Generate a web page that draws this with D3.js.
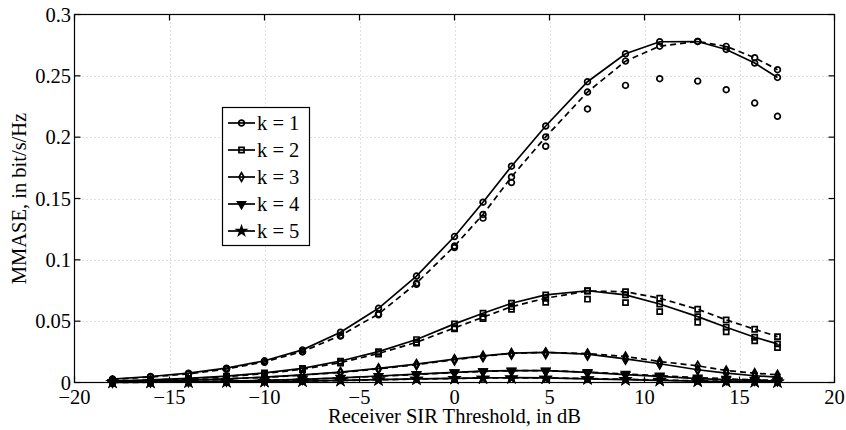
<!DOCTYPE html>
<html>
<head>
<meta charset="utf-8">
<script src="https://cdn.jsdelivr.net/npm/d3@7"></script>
<style>
  html, body { margin: 0; padding: 0; background: #fff; }
  svg { display: block; }
  text { font-family: "Liberation Serif", "Times New Roman", serif; fill: #000; }
</style>
</head>
<body>
<svg id="chart" width="846" height="430"></svg>
<script>
// Receiver SIR threshold (dB) at which each curve is evaluated
const sirDb = [-18, -16, -14, -12, -10, -8, -6, -4, -2, 0, 1.5, 3, 4.8, 7, 9, 10.8, 12.8, 14.3, 15.8, 17];

// k = 1
const k1Solid  = [0.0028, 0.0049, 0.0076, 0.0117, 0.0177, 0.0266, 0.0410, 0.0605, 0.0868, 0.1190, 0.1470, 0.1763, 0.2091, 0.2452, 0.2680, 0.2778, 0.2780, 0.2715, 0.2604, 0.2487];
const k1Dashed = [0.0025, 0.0045, 0.0070, 0.0110, 0.0168, 0.0252, 0.0383, 0.0559, 0.0809, 0.1112, 0.1370, 0.1676, 0.2002, 0.2368, 0.2620, 0.2742, 0.2780, 0.2740, 0.2648, 0.2550];
const k1Points = [0.0025, 0.0044, 0.0069, 0.0108, 0.0165, 0.0249, 0.0378, 0.0552, 0.0800, 0.1100, 0.1340, 0.1630, 0.1926, 0.2230, 0.2422, 0.2477, 0.2457, 0.2387, 0.2278, 0.2170];

// k = 2
const k2Solid  = [0.0012, 0.0021, 0.0034, 0.0052, 0.0078, 0.0115, 0.0175, 0.0252, 0.0350, 0.0478, 0.0565, 0.0646, 0.0714, 0.0748, 0.0714, 0.0640, 0.0537, 0.0451, 0.0369, 0.0315];
const k2Dashed = [0.0011, 0.0019, 0.0031, 0.0048, 0.0073, 0.0108, 0.0162, 0.0236, 0.0328, 0.0445, 0.0532, 0.0618, 0.0687, 0.0746, 0.0740, 0.0687, 0.0597, 0.0510, 0.0434, 0.0374];
const k2Points = [0.0011, 0.0019, 0.0030, 0.0047, 0.0071, 0.0106, 0.0159, 0.0232, 0.0322, 0.0438, 0.0520, 0.0597, 0.0654, 0.0679, 0.0651, 0.0578, 0.0491, 0.0413, 0.0339, 0.0285];

// k = 3
const k3Solid  = [0.0008, 0.0013, 0.0020, 0.0030, 0.0044, 0.0062, 0.0085, 0.0115, 0.0150, 0.0190, 0.0217, 0.0239, 0.0245, 0.0232, 0.0192, 0.0153, 0.0104, 0.0077, 0.0055, 0.0044];
const k3Dashed = [0.0008, 0.0012, 0.0019, 0.0029, 0.0042, 0.0060, 0.0082, 0.0111, 0.0146, 0.0186, 0.0214, 0.0237, 0.0245, 0.0236, 0.0212, 0.0171, 0.0136, 0.0098, 0.0076, 0.0063];
const k3Points = [0.0008, 0.0012, 0.0019, 0.0028, 0.0041, 0.0058, 0.0080, 0.0108, 0.0142, 0.0180, 0.0206, 0.0226, 0.0230, 0.0218, 0.0185, 0.0148, 0.0101, 0.0075, 0.0053, 0.0042];

// k = 4
const k4Solid  = [0.0002, 0.0004, 0.0007, 0.0011, 0.0017, 0.0026, 0.0038, 0.0053, 0.0068, 0.0083, 0.0092, 0.0097, 0.0096, 0.0082, 0.0065, 0.0050, 0.0032, 0.0024, 0.0017, 0.0012];
const k4Dashed = [0.0002, 0.0004, 0.0007, 0.0011, 0.0016, 0.0025, 0.0036, 0.0051, 0.0066, 0.0081, 0.0090, 0.0096, 0.0097, 0.0085, 0.0070, 0.0056, 0.0040, 0.0030, 0.0022, 0.0017];
const k4Points = [0.0002, 0.0004, 0.0007, 0.0010, 0.0016, 0.0024, 0.0035, 0.0050, 0.0064, 0.0078, 0.0086, 0.0090, 0.0088, 0.0076, 0.0060, 0.0046, 0.0030, 0.0022, 0.0016, 0.0011];

// k = 5
const k5Solid  = [0.0001, 0.0002, 0.0003, 0.0005, 0.0008, 0.0012, 0.0017, 0.0023, 0.0029, 0.0034, 0.0037, 0.0039, 0.0037, 0.0030, 0.0023, 0.0017, 0.0011, 0.0008, 0.0005, 0.0004];
const k5Dashed = [0.0001, 0.0002, 0.0003, 0.0005, 0.0008, 0.0011, 0.0016, 0.0022, 0.0028, 0.0033, 0.0036, 0.0038, 0.0037, 0.0032, 0.0026, 0.0020, 0.0014, 0.0010, 0.0007, 0.0006];
const k5Points = [0.0001, 0.0002, 0.0003, 0.0005, 0.0007, 0.0011, 0.0016, 0.0021, 0.0027, 0.0032, 0.0035, 0.0036, 0.0035, 0.0028, 0.0022, 0.0016, 0.0010, 0.0007, 0.0005, 0.0003];

const legendLabels = ["k = 1", "k = 2", "k = 3", "k = 4", "k = 5"];
const xTicks = [-20, -15, -10, -5, 0, 5, 10, 15, 20];
const yTicks = [0, 0.05, 0.1, 0.15, 0.2, 0.25, 0.3];
const xTitle = "Receiver SIR Threshold, in dB";
const yTitle = "MMASE, in bit/s/Hz";

const groups = [
  { label: legendLabels[0], marker: "circle",   solid: k1Solid, dashed: k1Dashed, points: k1Points },
  { label: legendLabels[1], marker: "square",   solid: k2Solid, dashed: k2Dashed, points: k2Points },
  { label: legendLabels[2], marker: "diamond",  solid: k3Solid, dashed: k3Dashed, points: k3Points },
  { label: legendLabels[3], marker: "triangle", solid: k4Solid, dashed: k4Dashed, points: k4Points },
  { label: legendLabels[4], marker: "star",     solid: k5Solid, dashed: k5Dashed, points: k5Points }
];

const svg = d3.select("#chart");
const plot = { left: 74.5, right: 834.5, top: 14.5, bottom: 382.5 };
const x = d3.scaleLinear().domain([-20, 20]).range([plot.left, plot.right]);
const y = d3.scaleLinear().domain([0, 0.3]).range([plot.bottom, plot.top]);
const FONT = 20.5;

// grid
const grid = svg.append("g").attr("stroke", "#c4c4c4").attr("stroke-width", 1).attr("stroke-dasharray", "1,3");
xTicks.slice(1, -1).forEach(t => {
  grid.append("line").attr("x1", Math.round(x(t)) + 0.5).attr("x2", Math.round(x(t)) + 0.5)
    .attr("y1", plot.top).attr("y2", plot.bottom);
});
yTicks.slice(1, -1).forEach(t => {
  grid.append("line").attr("y1", Math.round(y(t)) + 0.5).attr("y2", Math.round(y(t)) + 0.5)
    .attr("x1", plot.left).attr("x2", plot.right);
});

// marker shapes
function markerPath(kind) {
  switch (kind) {
    case "circle":   return d3.symbol(d3.symbolCircle, 26)();
    case "square":   return d3.symbol(d3.symbolSquare, 26)();
    case "diamond":  return d3.symbol(d3.symbolDiamond, 22)();
    case "triangle": return d3.symbol(d3.symbolTriangle, 26)();
    case "star":     return d3.symbol(d3.symbolStar, 24)();
  }
}
function markerTransform(kind, px, py) {
  return kind === "triangle" ? `translate(${px},${py}) rotate(180)` : `translate(${px},${py})`;
}
function markerFill(kind) {
  return (kind === "triangle" || kind === "star") ? "#000" : "none";
}

const line = d3.line().x((d, i) => x(sirDb[i])).y(d => y(d));
const series = svg.append("g");

groups.forEach(g => {
  series.append("path").attr("d", line(g.solid))
    .attr("fill", "none").attr("stroke", "#000").attr("stroke-width", 1.7);
  series.append("path").attr("d", line(g.dashed))
    .attr("fill", "none").attr("stroke", "#000").attr("stroke-width", 1.7).attr("stroke-dasharray", "6,4");
});

groups.forEach(g => {
  const p = markerPath(g.marker);
  [g.solid, g.dashed, g.points].forEach(vals => {
    series.append("g").selectAll("path").data(vals).join("path")
      .attr("d", p)
      .attr("transform", (d, i) => markerTransform(g.marker, x(sirDb[i]), y(d)))
      .attr("fill", markerFill(g.marker)).attr("stroke", "#000").attr("stroke-width", 1.7);
  });
});

// axes box with inward ticks on all sides
const axes = svg.append("g").attr("stroke", "#000").attr("stroke-width", 1.2).attr("fill", "none");
axes.append("rect").attr("x", plot.left).attr("y", plot.top)
  .attr("width", plot.right - plot.left).attr("height", plot.bottom - plot.top);
const TL = 6;
xTicks.forEach(t => {
  const px = x(t);
  axes.append("line").attr("x1", px).attr("x2", px).attr("y1", plot.bottom).attr("y2", plot.bottom - TL);
  axes.append("line").attr("x1", px).attr("x2", px).attr("y1", plot.top).attr("y2", plot.top + TL);
});
yTicks.forEach(t => {
  const py = y(t);
  axes.append("line").attr("y1", py).attr("y2", py).attr("x1", plot.left).attr("x2", plot.left + TL);
  axes.append("line").attr("y1", py).attr("y2", py).attr("x1", plot.right).attr("x2", plot.right - TL);
});

// tick labels
const fmtX = t => (t < 0 ? "\u2212" + Math.abs(t) : String(t));
svg.append("g").selectAll("text").data(xTicks).join("text")
  .attr("x", d => x(d)).attr("y", 404)
  .attr("text-anchor", "middle").attr("font-size", FONT)
  .text(fmtX);
svg.append("g").selectAll("text").data(yTicks).join("text")
  .attr("x", plot.left - 3.5).attr("y", d => y(d))
  .attr("dy", "0.35em")
  .attr("text-anchor", "end").attr("font-size", FONT)
  .text(d => String(d));

// axis titles
svg.append("text").attr("x", (plot.left + plot.right) / 2).attr("y", 423)
  .attr("text-anchor", "middle").attr("font-size", FONT).text(xTitle);
svg.append("text").attr("transform", `translate(26,${(plot.top + plot.bottom) / 2}) rotate(-90)`)
  .attr("text-anchor", "middle").attr("font-size", FONT).text(yTitle);

// legend
const leg = svg.append("g");
leg.append("rect").attr("x", 222.5).attr("y", 107.5).attr("width", 87).attr("height", 138)
  .attr("fill", "#fff").attr("stroke", "#000").attr("stroke-width", 1.2);
groups.forEach((g, i) => {
  const cy = 123 + i * 27;
  leg.append("line").attr("x1", 228).attr("x2", 255).attr("y1", cy).attr("y2", cy)
    .attr("stroke", "#000").attr("stroke-width", 1.7);
  leg.append("path").attr("d", markerPath(g.marker))
    .attr("transform", markerTransform(g.marker, 241.5, cy))
    .attr("fill", markerFill(g.marker)).attr("stroke", "#000").attr("stroke-width", 1.7);
  leg.append("text").attr("x", 257).attr("y", cy).attr("dy", "0.35em")
    .attr("font-size", FONT).text(g.label);
});
</script>
</body>
</html>
